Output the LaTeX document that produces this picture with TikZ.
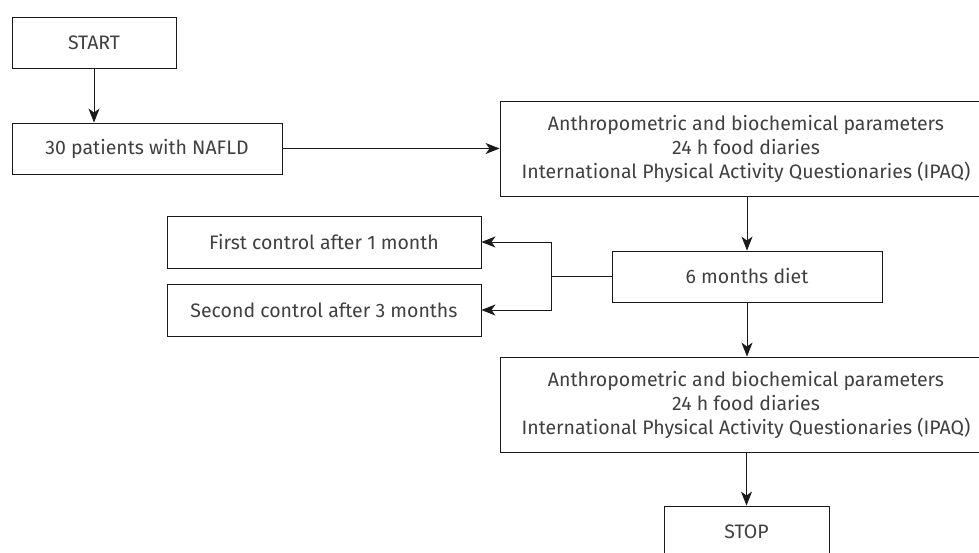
\documentclass[tikz,border=0pt]{standalone}
\usepackage{fontspec}
\setmainfont{Fira Sans}
\usepackage{xcolor}
\definecolor{colLine}{HTML}{1A1A1A}
\definecolor{colText}{HTML}{404040}
\usetikzlibrary{arrows.meta, positioning, calc}
\tikzset{
    flowbox/.style={
        draw=colLine, fill=white,
        line width=0.9pt,
        inner sep=2pt,
        minimum height=#1,
        align=center,
        text=colText,
        font=\fontsize{19.5}{24}\selectfont
    },
    flowbox/.default=51pt,
    flowarrow/.style={-{Stealth[length=14pt, width=11pt, inset=4pt]}, line width=0.9pt, color=colLine},
    flowline/.style={line width=0.9pt, color=colLine},
}
\begin{document}
\begin{tikzpicture}[x=1pt, y=-1pt]
    \useasboundingbox (0,0) rectangle (979,552);
    \clip (0,0) rectangle (979,552);

    % left column
    \node[flowbox, minimum width=164pt] (start) at (94,42.5) {START};
    \node[flowbox, minimum width=270pt] (patients) at (147,148.5) {30 patients with NAFLD};

    % right column (boxes run past the right edge)
    \node[flowbox=95pt, minimum width=492pt] (params1) at (746,148.5)
          {Anthropometric and biochemical parameters\\24 h food diaries\\International Physical Activity Questionaries (IPAQ)};
    \node[flowbox, minimum width=270pt] (diet) at (747,276.5) {6 months diet};
    \node[flowbox=95pt, minimum width=492pt] (params2) at (746,404.5)
          {Anthropometric and biochemical parameters\\24 h food diaries\\International Physical Activity Questionaries (IPAQ)};
    \node[flowbox=52pt, minimum width=165pt] (stop) at (746.5,532) {STOP};

    % controls during diet
    \node[flowbox=52pt, minimum width=314pt] (first) at (324,242) {First control after 1 month};
    \node[flowbox=52pt, minimum width=314pt] (second) at (324,310) {Second control after 3 months};
    \coordinate (split) at (551,276.5);

    \draw[flowarrow] (start) -- (start |- patients.north);
    \draw[flowarrow] (patients) -- (params1);
    \draw[flowarrow] (params1.south -| diet) -- (diet);
    \draw[flowarrow] (diet) -- (diet |- params2.north);
    \draw[flowarrow] (params2.south -| stop) -- (stop);

    \draw[flowline] (diet) -- (split);
    \draw[flowarrow] (split) |- (first);
    \draw[flowarrow] (split) |- (second);
\end{tikzpicture}
\end{document}
